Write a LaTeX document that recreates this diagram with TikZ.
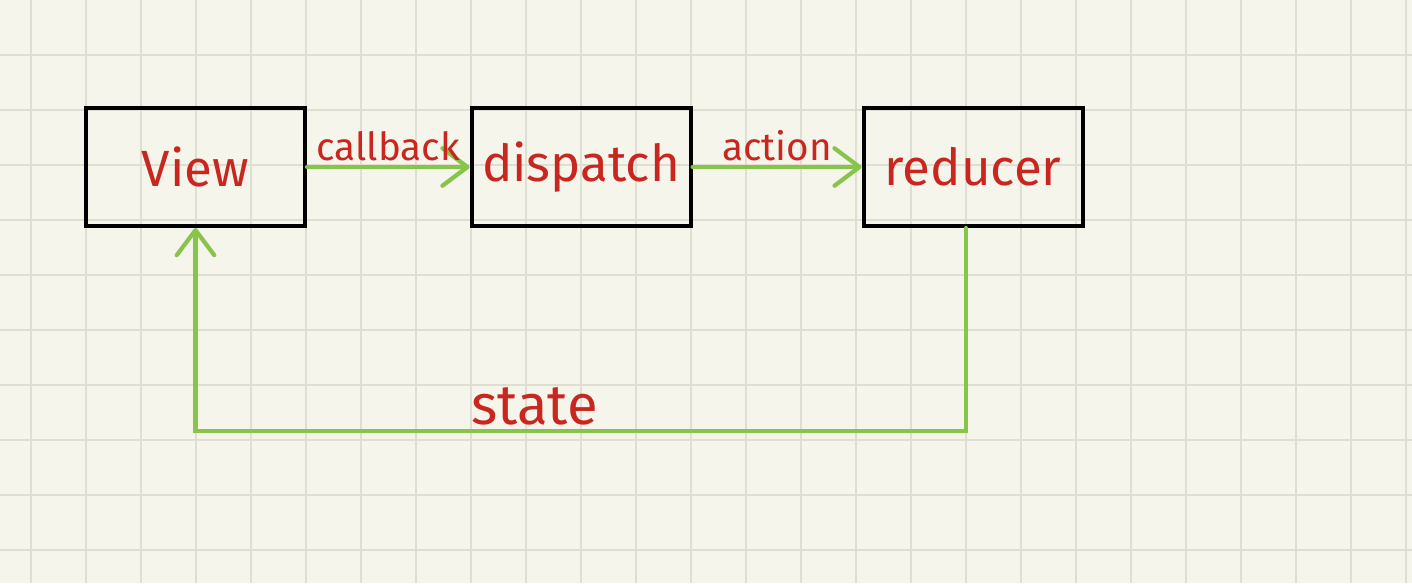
\documentclass[tikz,border=0pt]{standalone}
\usepackage{fontspec}
\setmainfont{Fira Sans}
\usepackage{tikz}
\usetikzlibrary{positioning,arrows.meta}

\definecolor{paper}{RGB}{245,245,235}
\definecolor{gridline}{RGB}{222,222,210}
\definecolor{penred}{RGB}{200,38,30}
\definecolor{leafgreen}{RGB}{134,196,74}

\begin{document}
\begin{tikzpicture}[
    node distance=3.3cm,
    box/.style={draw, line width=2.3pt, minimum width=4.38cm, minimum height=2.36cm,
                inner sep=0pt, text=penred, font=\fontsize{29}{31}\selectfont},
    lbl/.style={text=penred, font=\fontsize{22}{24}\selectfont, inner sep=2pt},
    arr/.style={-{Straight Barb[length=5mm, width=7.5mm, round]}, line width=2.4pt,
                draw=leafgreen, line cap=round}
]
% squared paper
\fill[paper] (0,0) rectangle (28.24,-11.66);
\useasboundingbox (0,0) rectangle (28.24,-11.66);
\foreach \k in {0,...,25}
    \draw[gridline, line width=0.9pt] (0.62+1.1*\k,0) -- (0.62+1.1*\k,-11.66);
\foreach \k in {0,...,9}
    \draw[gridline, line width=0.9pt] (0,-1.1-1.1*\k) -- (28.24,-1.1-1.1*\k);

\node[box] (view) at (3.91,-3.34) {View};
\node[box, right=3.25cm of view] (dispatch) {dispatch};
\node[box, right=3.38cm of dispatch] (reducer) {reducer};

\draw[arr] (view) -- (dispatch) node[lbl, midway, above] {callback};
\draw[arr] (dispatch) -- (reducer) node[lbl, midway, above] {action};
\draw[arr] ([xshift=-1.4mm]reducer.south) -- ++(0,-4.06)
    -| (view.south) node[lbl, pos=0.28, above, font=\fontsize{32}{34}\selectfont] {state};
\end{tikzpicture}
\end{document}
